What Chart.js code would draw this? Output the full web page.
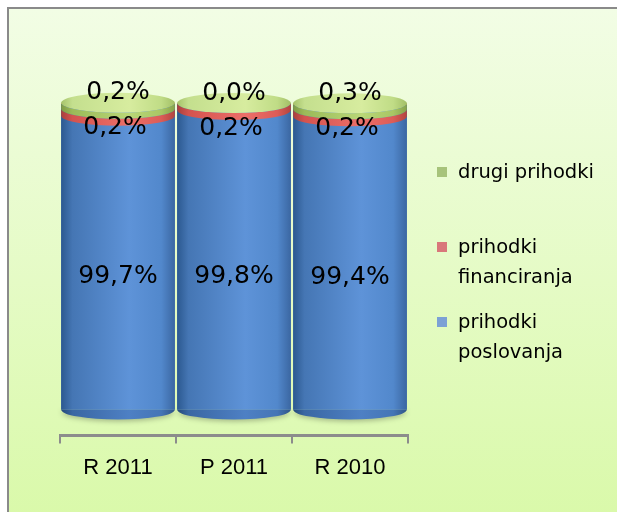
<!DOCTYPE html>
<html>
<head>
<meta charset="utf-8">
<script src="https://cdn.jsdelivr.net/npm/chart.js@4/dist/chart.umd.min.js"></script>
<style>
    body { margin: 0; background: #fff; overflow: hidden; }
    #frame {
        position: absolute; left: 7px; top: 7px; width: 640px; height: 540px;
        border: 2px solid #8a8a8a;
        background: linear-gradient(#f2fde5, #d8f9a6);
    }
    #chart { position: absolute; left: 0; top: 0; }
    #legend { position: absolute; left: 436px; top: 0; font-family: "DejaVu Sans", sans-serif; font-size: 19.5px; color: #000; }
    .item { position: absolute; left: 0; width: 178px; }
    .box { position: absolute; left: 1px; top: 10px; width: 10px; height: 10px; }
    .txt { margin-left: 22px; width: 156px; line-height: 30px; }
</style>
</head>
<body>
<div id="frame"></div>
<canvas id="chart" width="617" height="512"></canvas>
<div id="legend"></div>
<script>
const categories = ['R 2011', 'P 2011', 'R 2010'];
const poslovanja = [99.7, 99.8, 99.4];
const financiranja = [0.2, 0.2, 0.2];
const drugi = [0.2, 0.0, 0.3];
const seriesNames = ['prihodki poslovanja', 'prihodki financiranja', 'drugi prihodki'];
const seriesColors = ['#4f81bd', '#d9534f', '#9bbb59'];
const legendColors = ['#7ca1d5', '#d9777a', '#a7c37b'];

// horizontal shading so the bars look like cylinders
const shades = [
    ['#2c5990', '#4576b4', '#5e93d8', '#5288cc', '#3b67a2'],
    ['#a8403d', '#d4534f', '#ec6f69', '#dc5c57', '#b2453f'],
    ['#7f9b45', '#9bbb59', '#b9d777', '#a8c665', '#86a34a']
];
const capShade = ['#a6c36a', '#c4df8e', '#d7ec9f', '#c0dc86', '#a2bf66'];

function pct(v) {
    return v.toFixed(1).replace('.', ',') + '%';
}

function hGrad(ctx, left, w, stops) {
    let g = ctx.createLinearGradient(left, 0, left + w, 0);
    let pos = [0, 0.1, 0.6, 0.88, 1];
    stops.forEach(function(c, i) { g.addColorStop(pos[i], c); });
    return g;
}

function band(ctx, x, rx, ry, yt, yb) {
    ctx.beginPath();
    ctx.moveTo(x - rx, yt);
    ctx.lineTo(x - rx, yb);
    ctx.ellipse(x, yb, rx, ry, 0, Math.PI, 0, true);
    ctx.lineTo(x + rx, yt);
    ctx.ellipse(x, yt, rx, ry, 0, 0, Math.PI, false);
    ctx.closePath();
}

const cylinders = {
    id: 'cylinders',
    afterDatasetsDraw(chart) {
        let ctx = chart.ctx;
        let metas = chart.data.datasets.map(function(d, i) { return chart.getDatasetMeta(i); });
        categories.forEach(function(c, i) {
            let bars = metas.map(function(m) { return m.data[i]; });
            let body = bars[0];
            let x = body.x, w = body.width, rx = w / 2, ry = 10, left = x - rx;
            let top = bars[2].y;
            ctx.save();
            // bottom of the cylinder
            ctx.shadowColor = 'rgba(0,0,0,0.25)';
            ctx.shadowBlur = 5;
            ctx.shadowOffsetY = 2;
            ctx.beginPath();
            ctx.ellipse(x, body.base, rx, ry, 0, 0, Math.PI, false);
            ctx.closePath();
            ctx.fillStyle = hGrad(ctx, left, w, ['#24497a', '#3a67a3', '#4e80c4', '#4575b6', '#2f5588']);
            ctx.fill();
            ctx.restore();
            // body
            ctx.fillStyle = hGrad(ctx, left, w, shades[0]);
            ctx.fillRect(left, body.y, w, body.base - body.y);
            // thin top segments, given a visible minimum thickness
            let tG = drugi[i] > 0 ? Math.max(bars[2].base - bars[2].y, 6) : 0;
            let tR = Math.max(bars[1].base - bars[1].y, 7);
            band(ctx, x, rx, ry, top + tG, top + tG + tR);
            ctx.fillStyle = hGrad(ctx, left, w, shades[1]);
            ctx.fill();
            if (tG > 0) {
                band(ctx, x, rx, ry, top, top + tG);
                ctx.fillStyle = hGrad(ctx, left, w, shades[2]);
                ctx.fill();
            }
            ctx.beginPath();
            ctx.ellipse(x, top, rx, ry, 0, 0, Math.PI * 2);
            ctx.fillStyle = hGrad(ctx, left, w, capShade);
            ctx.fill();

            // value labels
            ctx.fillStyle = '#000';
            ctx.font = '25px "DejaVu Sans"';
            ctx.textAlign = 'center';
            ctx.textBaseline = 'middle';
            ctx.fillText(pct(poslovanja[i]), x, (body.y + body.base) / 2 + 20);
            ctx.fillText(pct(financiranja[i]), x - 3, top + 25);
            ctx.fillText(pct(drugi[i]), x, top - 10);
        });
    }
};

const ctx = document.getElementById('chart');
const myChart = new Chart(ctx, {
    type: 'bar',
    data: {
        labels: categories,
        datasets: [
            { label: seriesNames[0], data: poslovanja, backgroundColor: seriesColors[0] },
            { label: seriesNames[1], data: financiranja, backgroundColor: seriesColors[1] },
            { label: seriesNames[2], data: drugi, backgroundColor: seriesColors[2] }
        ]
    },
    options: {
        responsive: false,
        devicePixelRatio: 1,
        animation: false,
        layout: { padding: { left: 60, right: 209, top: 100, bottom: 20 } },
        datasets: { bar: { categoryPercentage: 1, barPercentage: 0.98, clip: false } },
        plugins: { legend: { display: false }, tooltip: { enabled: false } },
        scales: {
            x: {
                stacked: true,
                grid: { display: true, drawOnChartArea: false, drawTicks: true, tickLength: 8, color: '#8c8c8c', lineWidth: 2, offset: true },
                border: { display: true, color: '#8c8c8c', width: 3 },
                ticks: { color: '#000', padding: 11, font: { family: 'Liberation Sans', size: 22 } }
            },
            y: { stacked: true, display: false, min: -8.5, max: 101 }
        }
    },
    plugins: [cylinders]
});

// legend, drawn as html so the long names can wrap
let legendTops = [157, 232, 307];
let legend = document.getElementById('legend');
[2, 1, 0].forEach(function(s, k) {
    let item = document.createElement('div');
    item.className = 'item';
    item.style.top = legendTops[k] + 'px';
    item.innerHTML = '<div class="box" style="background:' + legendColors[s] + '"></div><div class="txt">' + seriesNames[s] + '</div>';
    legend.appendChild(item);
});
</script>
</body>
</html>
